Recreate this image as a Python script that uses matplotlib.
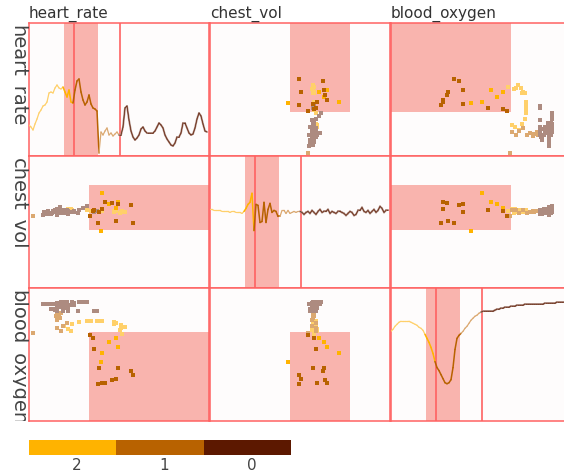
import numpy as np
import matplotlib
matplotlib.use('Agg')
import matplotlib.pyplot as plt
from matplotlib.collections import LineCollection
from matplotlib.patches import Rectangle
from matplotlib.transforms import Bbox, TransformedBbox

# ---------------- data ----------------
variables = ['heart_rate', 'chest_vol', 'blood_oxygen']
time = np.arange(0, 180, 2)

heart_rate = [31, 29, 26, 32, 37, 43, 46, 50, 51, 54,
              63, 64, 63, 68, 71, 68, 67, 69, 64, 59,
              66, 54, 53, 66, 75, 77, 64, 56, 51, 54,
              61, 52, 48, 47, 45, 3, 24, 21, 25, 28,
              21, 23, 20, 22, 24, 21, 21, 29, 48, 50,
              36, 25, 19, 16, 18, 21, 27, 29, 25, 23,
              23, 23, 23, 25, 29, 33, 31, 28, 21, 17,
              14, 11, 10, 13, 19, 19, 23, 33, 33, 28,
              23, 21, 22, 28, 37, 43, 40, 32, 25, 24]

chest_vol = [78, 78, 77, 77, 77, 77, 76, 76, 76, 76,
             75, 76, 76, 75, 75, 75, 74, 76, 79, 83,
             85, 94, 57, 83, 82, 65, 66, 85, 65, 78,
             84, 75, 77, 76, 71, 71, 77, 77, 74, 77,
             74, 75, 76, 75, 76, 76, 75, 73, 75, 76,
             74, 77, 75, 73, 76, 78, 75, 76, 76, 78,
             74, 76, 75, 74, 76, 76, 75, 74, 72, 74,
             76, 75, 72, 73, 77, 77, 80, 76, 75, 77,
             74, 76, 78, 75, 77, 81, 79, 75, 77, 77]

blood_oxygen = [89, 91, 94, 96, 98, 99, 99, 99, 99, 99,
                98, 97, 96, 95, 93, 92, 90, 86, 82, 78,
                73, 67, 59, 53, 50, 46, 42, 38, 37, 38,
                41, 53, 71, 82, 85, 87, 89, 92, 94, 97,
                100, 102, 104, 105, 107, 108, 109, 109, 109, 109,
                109, 109, 110, 111, 111, 112, 112, 113, 113, 113,
                114, 114, 114, 115, 115, 115, 115, 116, 116, 116,
                116, 116, 116, 116, 116, 116, 116, 117, 117, 117,
                117, 117, 117, 118, 118, 118, 118, 118, 118, 118]

series = {'heart_rate': np.array(heart_rate, float),
          'chest_vol': np.array(chest_vol, float),
          'blood_oxygen': np.array(blood_oxygen, float)}
axis_limits = {'heart_rate': (0, 133), 'chest_vol': (0, 131), 'blood_oxygen': (0, 132)}
time_limits = (0, 180)

group_breaks = [45, 91]          # time where group changes 2 -> 1 -> 0
time_brush = (35, 69)            # highlighted time window
brush = {'heart_rate': (44, 133), 'chest_vol': (58, 102), 'blood_oxygen': (0, 88)}

group_labels = [2, 1, 0]
full_colors = {2: '#FFB300', 1: '#B86200', 0: '#5C1800'}
faded_colors = {2: '#FFD06A', 1: '#DBA870', 0: '#AD8B80'}

# ---------------- helpers ----------------
def group_of(t):
    t = np.asarray(t)
    return np.where(t < group_breaks[0], 2, np.where(t < group_breaks[1], 1, 0))

def highlighted(t):
    t = np.asarray(t)
    return (t >= time_brush[0]) & (t <= time_brush[1])

groups = group_of(time)
hl = highlighted(time)

RED = '#ff6262'
BRUSH = '#f9b4ae'
PANEL_BG = '#fefcfc'

W, H = 564, 475
fig = plt.figure(figsize=(W / 100, H / 100), dpi=100)
col_x = [29, 210, 391]
col_w = 180
row_top = [23, 156, 288]
row_h = [133, 132, 133]

def style(ax):
    ax.set_facecolor(PANEL_BG)
    ax.set_xticks([]); ax.set_yticks([])
    for sp in ax.spines.values():
        sp.set_color(RED)
        sp.set_linewidth(1.1)

for i, yv in enumerate(variables):
    for j, xv in enumerate(variables):
        ax = fig.add_axes([col_x[j] / W, 1 - (row_top[i] + row_h[i]) / H,
                           col_w / W, row_h[i] / H])
        style(ax)
        if i == j:
            y = series[yv]
            ax.set_xlim(*time_limits)
            ax.set_ylim(*axis_limits[yv])
            ax.axvspan(time_brush[0], time_brush[1], color=BRUSH, lw=0, zorder=1)
            for b in group_breaks:
                ax.axvline(b, color=RED, lw=1.2, zorder=2)
            pts = np.column_stack([time, y])
            segs = np.stack([pts[:-1], pts[1:]], axis=1)
            tm = (time[:-1] + time[1:]) / 2
            g = group_of(tm)
            h = highlighted(tm)
            cols, lws = [], []
            for gg, hh in zip(g, h):
                if hh:
                    cols.append(full_colors[gg]); lws.append(1.1)
                elif gg == 0:
                    cols.append(faded_colors[gg]); lws.append(1.4)
                else:
                    cols.append(faded_colors[gg]); lws.append(0.9)
            ax.add_collection(LineCollection(segs, colors=cols, linewidths=lws, zorder=3,
                                             capstyle='round', joinstyle='round'))
            dark = g == 0
            ax.add_collection(LineCollection(segs[dark], colors=full_colors[0],
                                             linewidths=0.45, zorder=4))
        else:
            xdat, ydat = series[xv], series[yv]
            ax.set_xlim(*axis_limits[xv])
            ax.set_ylim(*axis_limits[yv])
            bx, by = brush[xv], brush[yv]
            ax.add_patch(Rectangle((bx[0], by[0]), bx[1] - bx[0], by[1] - by[0],
                                   facecolor=BRUSH, edgecolor='none', zorder=1))
            for gg in group_labels:
                m = (groups == gg) & ~hl
                ax.scatter(xdat[m], ydat[m], s=5, marker='s', color=faded_colors[gg],
                           linewidths=0, zorder=3)
            for gg in group_labels:
                m = (groups == gg) & hl
                ax.scatter(xdat[m], ydat[m], s=5, marker='s', color=full_colors[gg],
                           linewidths=0, zorder=4)

# column titles
for j, v in enumerate(variables):
    fig.text(col_x[j] / W, 1 - 17.5 / H, v, fontsize=11, color='#333333',
             ha='left', va='baseline')

# row labels (vertical, clipped)
for i, v in enumerate(variables):
    t = fig.text(12.5 / W, 1 - (row_top[i] + 2) / H, v, fontsize=14, color='#444444',
                 rotation=-90, rotation_mode='anchor', ha='left', va='baseline')
    cb = TransformedBbox(Bbox.from_extents(12.5 / W, 1 - (row_top[i] + row_h[i]) / H,
                                           29 / W, 1 - row_top[i] / H), fig.transFigure)
    t.set_clip_box(cb)
    t.set_clip_on(True)

# legend colour bar
lax = fig.add_axes([29 / W, 1 - 455 / H, 262 / W, 15 / H])
lax.bar(range(len(group_labels)), [1] * len(group_labels), width=1.0,
        color=[full_colors[g] for g in group_labels], linewidth=0)
lax.set_xlim(-0.5, len(group_labels) - 0.5)
lax.set_ylim(0, 1)
lax.set_yticks([])
lax.set_xticks([k + 0.05 for k in range(len(group_labels))])
lax.set_xticklabels([str(g) for g in group_labels], fontsize=11, color='#444444')
lax.tick_params(axis='x', length=0, pad=2)
for sp in lax.spines.values():
    sp.set_visible(False)

fig.savefig('out.png', dpi=100, facecolor='white')
